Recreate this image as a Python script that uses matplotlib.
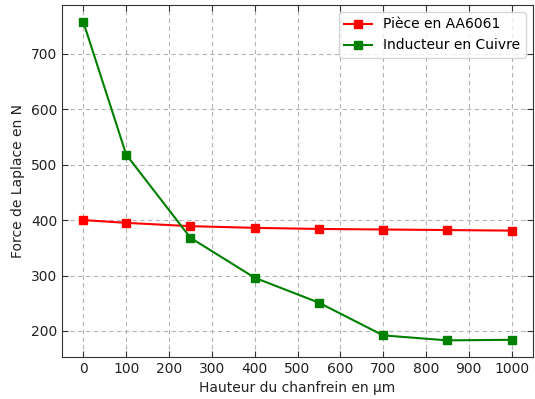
import matplotlib
matplotlib.use("Agg")
import matplotlib.pyplot as plt

hauteur = [0, 100, 250, 400, 550, 700, 850, 1000]
piece = [400, 395, 389, 386, 384, 383, 382, 381]
inducteur = [757, 518, 368, 296, 251, 192, 183, 184]
xticks = [0, 100, 200, 300, 400, 500, 600, 700, 800, 900, 1000]
yticks = [200, 300, 400, 500, 600, 700]

fig = plt.figure(figsize=(5.35, 3.99), dpi=100)
ax = fig.add_axes([62/535, 1-357/399, (533-62)/535, (357-5)/399])
ax.plot(hauteur, piece, color='red', marker='s', markersize=6, linewidth=1.5, label='Pièce en AA6061')
ax.plot(hauteur, inducteur, color='green', marker='s', markersize=6, linewidth=1.5, label='Inducteur en Cuivre')
ax.set_xticks(xticks)
ax.set_yticks(yticks)
ax.set_xlim(-50, 1050)
ax.set_ylim(153, 788)
ax.grid(True, linestyle=(0, (4, 3)), color='#b4b4b4', linewidth=0.8)
ax.tick_params(direction='in', top=True, right=True, labelsize=10, length=4, colors='#333333', labelcolor='#222222')
for s in ax.spines.values():
    s.set_color('#333333')
ax.set_xlabel('Hauteur du chanfrein en µm', fontsize=10, color='#222222')
ax.set_ylabel('Force de Laplace en N', fontsize=10, color='#222222')
ax.legend(loc='upper right', fontsize=10)
fig.savefig('out.png', dpi=100)
